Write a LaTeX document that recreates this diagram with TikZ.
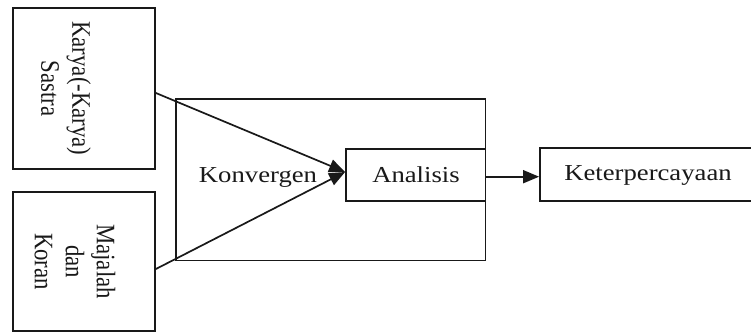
\documentclass[tikz,border=0pt]{standalone}
\usepackage{fontspec}
\setmainfont{Liberation Serif}[FakeStretch=1.17]
\newfontfamily\uprightserif{Liberation Serif}
\usetikzlibrary{arrows.meta}
\tikzset{
  box/.style={draw=black!90, line width=1.8pt, rectangle, inner sep=0pt},
  label/.style={inner sep=0pt, text=black!90, font=\fontsize{22.8}{26}\selectfont},
  sidelabel/.style={inner sep=0pt, text=black!90, align=center, rotate=-90, yscale=1.17,
    font=\uprightserif\fontsize{22.8}{26.5}\selectfont},
  link/.style={line width=1.7pt, draw=black!90, -{Triangle[length=16pt,width=13pt]}}
}
\begin{document}
\begin{tikzpicture}[x=1pt, y=-1pt]
  \useasboundingbox (0,0) rectangle (751,334);
  \fill[white] (0,0) rectangle (751,334);
  \clip (0,0) rectangle (751,334);

  % source boxes on the left
  \node[box, minimum width=142pt, minimum height=161pt] (karya) at (84,88.5) {};
  \node[sidelabel] (karyatext) at (66,88.5) {Karya(-Karya)\\Sastra};
  \node[box, minimum width=142pt, minimum height=139pt] (majalah) at (84,261.5) {};
  \node[sidelabel] (majalahtext) at (75,261.5) {Majalah\\dan\\Koran};

  % convergence frame with the analysis step inside
  \node[box, minimum width=309.5pt, minimum height=161.5pt] (frame) at (330.75,179.75) {};
  \node[label] (konvergen) at (258,177) {Konvergen};
  \node[box, minimum width=139.5pt, minimum height=52pt] (analisis) at (415.75,175) {};
  \node[label] (analisistext) at (416,175) {Analisis};

  % result box, running past the right edge
  \node[box, minimum width=216pt, minimum height=52.4pt] (keter) at (648,174.5) {};
  \node[label] (kettext) at (648,175) {Keterpercayaan};

  % connectors
  \draw[link] ([yshift=-4.5pt]karya.east) -- ([yshift=3pt]analisis.west);
  \draw[link] ([yshift=-7.5pt]majalah.east) -- ([yshift=3pt]analisis.west);
  \draw[link] ([yshift=-1.7pt]analisis.east) -- ([yshift=-2.2pt]keter.west);
\end{tikzpicture}
\end{document}
